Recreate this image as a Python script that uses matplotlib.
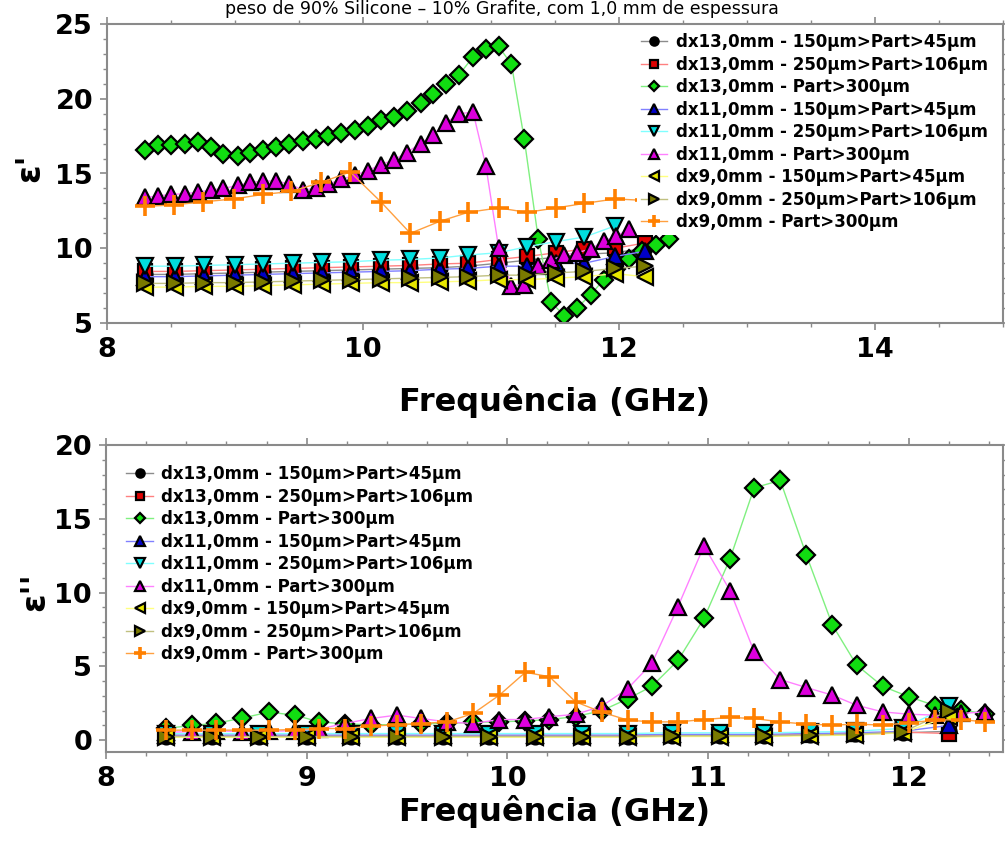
import matplotlib
matplotlib.use("Agg")
from matplotlib import pyplot as plt
from matplotlib.ticker import MultipleLocator

plt.rcParams['font.family'] = ['DejaVu Sans']

labels = ['dx13,0mm - 150µm>Part>45µm',
          'dx13,0mm - 250µm>Part>106µm',
          'dx13,0mm - Part>300µm',
          'dx11,0mm - 150µm>Part>45µm',
          'dx11,0mm - 250µm>Part>106µm',
          'dx11,0mm - Part>300µm',
          'dx9,0mm - 150µm>Part>45µm',
          'dx9,0mm - 250µm>Part>106µm',
          'dx9,0mm - Part>300µm']

# frequency grids (GHz)
f_fine = [8.30, 8.40, 8.50, 8.61, 8.71, 8.81, 8.91, 9.02, 9.12, 9.22, 9.32,
          9.42, 9.53, 9.63, 9.73, 9.83, 9.94, 10.04, 10.14, 10.24, 10.34,
          10.45, 10.55, 10.65, 10.75, 10.86, 10.96, 11.06, 11.16, 11.26, 11.37,
          11.47, 11.57, 11.67, 11.78, 11.88, 11.98, 12.08, 12.18, 12.29, 12.39]
f_coarse = [8.30, 8.53, 8.76, 9.00, 9.22, 9.45, 9.68, 9.91, 10.14, 10.37,
            10.60, 10.82, 11.06, 11.28, 11.51, 11.73, 11.97, 12.20]
f_mid = [8.30, 8.43, 8.55, 8.68, 8.81, 8.94, 9.06, 9.19, 9.32, 9.45, 9.57,
         9.70, 9.83, 9.96, 10.09, 10.21, 10.34, 10.47, 10.60, 10.72, 10.85,
         10.98, 11.11, 11.23, 11.36, 11.49, 11.62, 11.74, 11.87, 12.00, 12.13,
         12.26, 12.38]

# ---- epsilon' (top) ----
e1_13_150 = [8.25, 8.25, 8.3, 8.35, 8.4, 8.45, 8.5, 8.55, 8.6, 8.65, 8.7, 8.8,
             9.0, 9.2, 9.4, 9.6, 9.7, 10.0]
e1_13_250 = [8.45, 8.45, 8.5, 8.55, 8.6, 8.65, 8.7, 8.75, 8.8, 8.85, 8.95, 9.0,
             9.25, 9.45, 9.7, 9.95, 10.0, 10.35]
e1_13_300 = [16.6, 16.9, 16.9, 17.0, 17.1, 16.8, 16.3, 16.2, 16.4, 16.6, 16.8,
             17.0, 17.2, 17.3, 17.5, 17.7, 17.9, 18.2, 18.6, 18.8, 19.2, 19.7,
             20.3, 21.0, 21.6, 22.8, 23.3, 23.5, 22.3, 17.3, 10.6, 6.4, 5.5,
             6.0, 6.9, 7.9, 8.6, 9.3, 9.8, 10.2, 10.6]
e1_11_150 = [8.1, 8.1, 8.15, 8.2, 8.25, 8.3, 8.35, 8.4, 8.45, 8.5, 8.6, 8.65,
             8.8, 8.8, 9.0, 9.0, 9.45, 9.8]
e1_11_250 = [8.8, 8.8, 8.85, 8.9, 8.95, 9.0, 9.05, 9.1, 9.2, 9.25, 9.35, 9.55,
             9.7, 10.1, 10.45, 10.75, 11.5]
e1_11_300 = [13.4, 13.5, 13.6, 13.65, 13.75, 13.9, 14.0, 14.2, 14.4, 14.5, 14.5,
             14.3, 13.9, 14.0, 14.3, 14.6, 14.9, 15.2, 15.6, 15.9, 16.4, 17.0,
             17.6, 18.4, 19.0, 19.1, 15.5, 10.0, 7.5, 7.55, 8.8, 9.2, 9.55, 9.7,
             9.95, 10.5, 10.8, 11.3]
e1_9_150 = [7.4, 7.4, 7.45, 7.45, 7.5, 7.55, 7.6, 7.65, 7.7, 7.7, 7.75, 7.8,
            7.9, 7.9, 8.0, 8.1, 8.3, 8.1]
e1_9_250 = [7.65, 7.65, 7.7, 7.7, 7.75, 7.8, 7.85, 7.9, 7.95, 8.0, 8.05, 8.1,
            8.2, 8.2, 8.35, 8.45, 8.65, 8.8]
f_orange_top = [8.30, 8.52, 8.75, 8.99, 9.22, 9.44, 9.67, 9.90, 10.14, 10.37,
                10.60, 10.82, 11.06, 11.28, 11.51, 11.73, 11.97, 12.20]
e1_9_300 = [12.8, 12.9, 13.1, 13.3, 13.6, 13.8, 14.4, 15.1, 13.1, 11.0, 11.8,
            12.4, 12.7, 12.4, 12.7, 13.0, 13.3, 13.2]

# ---- epsilon'' (bottom) ----
e2_13_150 = [0.25, 0.25, 0.25, 0.25, 0.25, 0.25, 0.25, 0.25, 0.25, 0.25, 0.25,
             0.3, 0.3, 0.3, 0.35, 0.4, 0.5, 0.6]
e2_13_250 = [0.3, 0.3, 0.3, 0.3, 0.3, 0.3, 0.3, 0.3, 0.3, 0.3, 0.3, 0.35,
             0.35, 0.35, 0.4, 0.45, 0.55, 0.45]
e2_13_300 = [0.8, 1.0, 1.15, 1.5, 1.9, 1.7, 1.25, 1.1, 1.05, 1.05, 1.1, 1.15,
             1.2, 1.25, 1.3, 1.4, 1.6, 2.0, 2.8, 3.65, 5.4, 8.25, 12.3, 17.1,
             17.6, 12.55, 7.8, 5.1, 3.65, 2.95, 2.35, 2.05, 1.8]
e2_11_150 = [0.35, 0.35, 0.35, 0.35, 0.35, 0.35, 0.35, 0.35, 0.35, 0.35, 0.35,
             0.4, 0.4, 0.4, 0.45, 0.5, 0.6, 1.0]
e2_11_250 = [0.45, 0.45, 0.45, 0.45, 0.45, 0.45, 0.45, 0.45, 0.45, 0.45, 0.45,
             0.5, 0.5, 0.5, 0.55, 0.6, 0.8, 2.3]
e2_11_300 = [0.55, 0.57, 0.65, 0.57, 0.6, 0.65, 0.75, 1.13, 1.47, 1.7, 1.47,
             1.24, 1.13, 1.4, 1.4, 1.6, 1.75, 2.3, 3.5, 5.2, 9.04, 13.16, 10.13,
             5.99, 4.11, 3.57, 3.05, 2.37, 1.92, 1.76, 1.7, 1.81, 1.92]
e2_9_150 = [0.2, 0.2, 0.2, 0.2, 0.2, 0.2, 0.2, 0.2, 0.2, 0.2, 0.2, 0.25, 0.25,
            0.25, 0.3, 0.35, 0.5, 1.6]
e2_9_250 = [0.25, 0.25, 0.25, 0.25, 0.25, 0.25, 0.25, 0.25, 0.25, 0.25, 0.25,
            0.3, 0.3, 0.3, 0.35, 0.4, 0.55, 2.0]
e2_9_300 = [0.68, 0.68, 0.68, 0.68, 0.68, 0.72, 0.79, 0.79, 0.95, 1.05, 1.13,
            1.24, 1.81, 3.05, 4.6, 4.3, 2.6, 1.9, 1.36, 1.24, 1.24, 1.4, 1.54,
            1.47, 1.24, 1.09, 1.02, 1.09, 1.02, 1.17, 1.36, 1.4, 1.24]

# marker, face colour, line colour, marker size
styles = [('o', '#000000', '#8c8c8c', 10),
          ('s', '#e00000', '#ff8080', 9.5),
          ('D', '#11dd11', '#80f080', 8.8),
          ('^', '#0000c8', '#8080ff', 11.5),
          ('v', '#00dede', '#80ffff', 11.5),
          ('^', '#dd00dd', '#ff80ff', 11.5),
          ('<', '#e6e600', '#ffff80', 11.5),
          ('>', '#7a7a00', '#c0c080', 11.5),
          ('+', '#ff8000', '#ffa040', 14)]

top_series = [(f_coarse, e1_13_150), (f_coarse, e1_13_250), (f_fine, e1_13_300),
              (f_coarse, e1_11_150), (f_coarse[:len(e1_11_250)], e1_11_250),
              (f_fine[:len(e1_11_300)], e1_11_300), (f_coarse, e1_9_150),
              (f_coarse, e1_9_250), (f_orange_top, e1_9_300)]
bot_series = [(f_coarse, e2_13_150), (f_coarse, e2_13_250), (f_mid, e2_13_300),
              (f_coarse, e2_11_150), (f_coarse, e2_11_250), (f_mid, e2_11_300),
              (f_coarse, e2_9_150), (f_coarse, e2_9_250), (f_mid, e2_9_300)]


def draw(ax, series):
  for (x, y), lab, (m, fc, lc, ms) in zip(series, labels, styles):
    if m == '+':
      ax.plot(x, y, color=lc, lw=1.0, marker=m, ms=ms, mec=fc, mew=2.6, label=lab)
    else:
      ax.plot(x, y, color=lc, lw=1.0, marker=m, ms=ms, mfc=fc, mec='black',
              mew=1.6, label=lab)


def style_axes(ax, lpad):
  for s in ax.spines.values():
    s.set_color('#8a8a8a')
    s.set_linewidth(1.5)
  ax.tick_params(which='both', direction='out', colors='#8a8a8a',
                 top=True, right=True, labelcolor='black', labelsize=19.5)
  ax.tick_params(which='major', length=5, width=1.2, pad=5)
  ax.tick_params(which='minor', length=3, width=1.0)
  for t in ax.get_xticklabels() + ax.get_yticklabels():
    t.set_fontweight('bold')
  ax.set_xlabel('Frequência (GHz)', fontsize=23, fontweight='bold', labelpad=lpad)


def add_legend(ax, anchor, white):
  leg = ax.legend(loc='upper left', bbox_to_anchor=anchor,
                  prop={'size': 12, 'weight': 'bold'},
                  markerscale=0.6, handlelength=1.6, handletextpad=0.5,
                  labelspacing=0.27, borderpad=0.2, borderaxespad=0,
                  frameon=white, fancybox=False, edgecolor='none', framealpha=1)
  return leg


fig = plt.figure(figsize=(10.05, 8.49), dpi=100)

ax1 = fig.add_axes([107/1005, 1-323/849, 896/1005, 299/849])
draw(ax1, top_series)
ax1.set_xlim(8, 15)
ax1.set_ylim(5, 25)
ax1.xaxis.set_major_locator(MultipleLocator(2))
ax1.xaxis.set_minor_locator(MultipleLocator(0.5))
ax1.yaxis.set_major_locator(MultipleLocator(5))
ax1.yaxis.set_minor_locator(MultipleLocator(1))
style_axes(ax1, 16)
add_legend(ax1, (0.592, 0.98), True)

ax2 = fig.add_axes([106/1005, 1-752/849, 897/1005, 307/849])
draw(ax2, bot_series)
ax2.set_xlim(8, 12.47)
ax2.set_ylim(-0.8, 20)
ax2.xaxis.set_major_locator(MultipleLocator(1))
ax2.xaxis.set_minor_locator(MultipleLocator(0.2))
ax2.yaxis.set_major_locator(MultipleLocator(5))
ax2.yaxis.set_minor_locator(MultipleLocator(1))
style_axes(ax2, 2)
add_legend(ax2, (0.019, 0.945), False)

fig.text(30/1005, 1-168/849, "ε'", rotation=90, fontsize=24, fontweight='bold',
         ha='center', va='center')
fig.text(35/1005, 1-592/849, "ε''", rotation=90, fontsize=24, fontweight='bold',
         ha='center', va='center')

# title line of the original figure (mostly cut off there)
fig.text(225/1005, 1-14/849, 'peso de 90% Silicone – 10% Grafite, com 1,0 mm de espessura',
         fontsize=12.5, ha='left', va='baseline')

fig.savefig('out.png', dpi=100)
